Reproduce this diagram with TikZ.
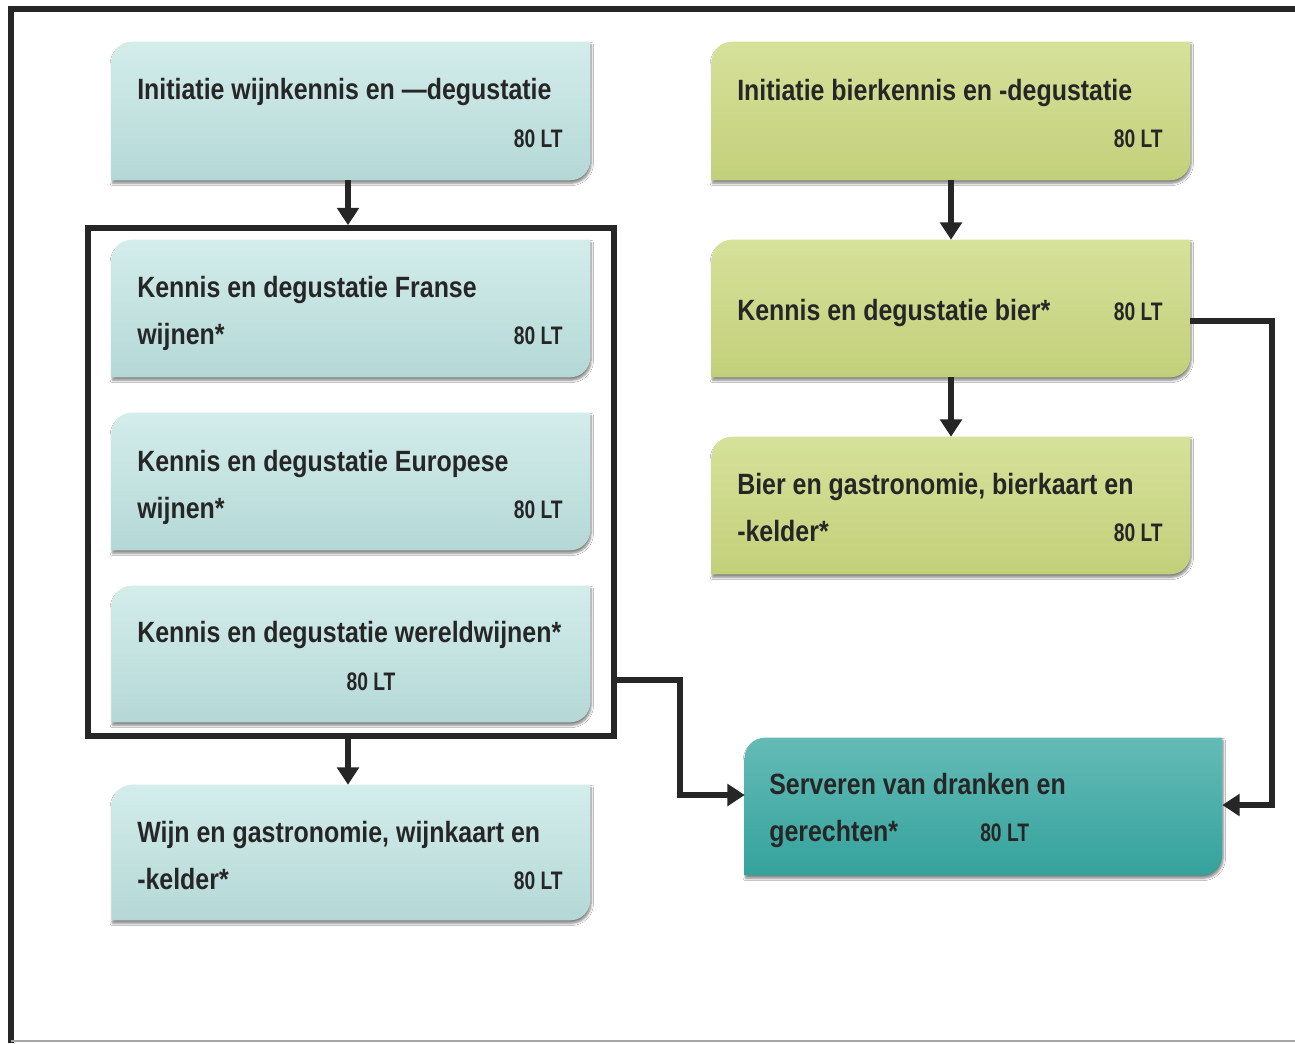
\documentclass[tikz,border=0pt]{standalone}
\usepackage{fontspec}
\setmainfont{Liberation Sans}[FakeStretch=0.85]
\newfontfamily\ltfont{Liberation Sans}[FakeStretch=0.76]
\usetikzlibrary{arrows.meta,shadows.blur,calc}
\definecolor{txtc}{HTML}{262626}
\definecolor{lnc}{HTML}{262626}
\definecolor{cyT}{HTML}{D3EDEB}
\definecolor{cyB}{HTML}{B4D8D6}
\definecolor{grT}{HTML}{D6E19A}
\definecolor{grB}{HTML}{C3D07A}
\definecolor{tlT}{HTML}{64BBB6}
\definecolor{tlB}{HTML}{35A29C}
\tikzset{
  boxnode/.style={rectangle, inner sep=0pt, draw=none, fill=none},
  cyanfill/.style={top color=cyT, bottom color=cyB},
  greenfill/.style={top color=grT, bottom color=grB},
  tealfill/.style={top color=tlT, bottom color=tlB},
  shad/.style={blur shadow={shadow xshift=0.6pt, shadow yshift=-2.2pt, shadow blur steps=6, shadow blur radius=1.8pt, shadow opacity=50}},
  txt/.style={font=\bfseries\fontsize{22}{26}\selectfont, text=txtc, inner sep=0pt},
  lt/.style={font=\ltfont\bfseries\fontsize{19}{22}\selectfont, text=txtc, inner sep=0pt},
  conn/.style={draw=lnc, line width=4pt, -{Triangle[length=13pt,width=16pt]}},
  groupbox/.style={rectangle, draw=lnc, line width=4.2pt, inner sep=0pt, fill=none}
}
\newcommand\leafbox[6]{%
  \node[boxnode] (#1) at ({(#2+#4)/2},{(#3+#5)/2})
    [minimum width={(#4-#2)*0.75pt}, minimum height={(#5-#3)*0.75pt}] {};
  \path[#6, shad] ([yshift=-15pt]#1.north west) arc[start angle=180,end angle=90,radius=15pt]
    -- (#1.north east) -- ([yshift=15pt]#1.south east)
    arc[start angle=0,end angle=-90,radius=15pt] -- (#1.south west) -- cycle;
}
\begin{document}
\begin{tikzpicture}[x=0.75pt,y=-0.75pt]
\useasboundingbox (0,0) rectangle (1295,1043);
\fill[white] (0,0) rectangle (1295,1043);
% outer frame
\draw[draw=lnc, line width=5pt] (11,1043) -- (11,9) -- (1295,9);
\draw[draw=gray!70, line width=1.8pt] (11,1041) -- (1295,1041);

% left column
\leafbox{winit}{112}{42}{590}{180}{cyanfill}
\node[txt, anchor=base west] (winitA) at (137,99) {Initiatie wijnkennis en —degustatie};
\node[lt, anchor=base east] (winitL) at (563,147) {80 LT};

\leafbox{fr}{112}{240}{590}{377}{cyanfill}
\node[txt, anchor=base west] (frA) at (137,297) {Kennis en degustatie Franse};
\node[txt, anchor=base west] (frB) at (137,344) {wijnen*};
\node[lt, anchor=base east] (frL) at (563,344) {80 LT};

\leafbox{eu}{112}{413}{590}{550}{cyanfill}
\node[txt, anchor=base west] (euA) at (137,471) {Kennis en degustatie Europese};
\node[txt, anchor=base west] (euB) at (137,518) {wijnen*};
\node[lt, anchor=base east] (euL) at (563,518) {80 LT};

\leafbox{we}{112}{586}{590}{722}{cyanfill}
\node[txt, anchor=base west] (weA) at (137,642) {Kennis en degustatie wereldwijnen*};
\node[lt, anchor=base] (weL) at (371,690) {80 LT};

\leafbox{wg}{112}{785}{590}{920}{cyanfill}
\node[txt, anchor=base west] (wgA) at (137,842) {Wijn en gastronomie, wijnkaart en};
\node[txt, anchor=base west] (wgB) at (137,889) {-kelder*};
\node[lt, anchor=base east] (wgL) at (563,889) {80 LT};

% group frame
\node[groupbox, minimum width={526*0.75pt}, minimum height={508*0.75pt}] (grp) at (351,482) {};

% right column
\leafbox{binit}{712}{42}{1190}{180}{greenfill}
\node[txt, anchor=base west] (binitA) at (737,100) {Initiatie bierkennis en -degustatie};
\node[lt, anchor=base east] (binitL) at (1163,147) {80 LT};

\leafbox{kb}{712}{240}{1190}{377}{greenfill}
\node[txt, anchor=base west] (kbA) at (737,320) {Kennis en degustatie bier*};
\node[lt, anchor=base east] (kbL) at (1163,320) {80 LT};

\leafbox{bg}{712}{437}{1190}{574}{greenfill}
\node[txt, anchor=base west] (bgA) at (737,494) {Bier en gastronomie, bierkaart en};
\node[txt, anchor=base west] (bgB) at (737,541) {-kelder*};
\node[lt, anchor=base east] (bgL) at (1163,541) {80 LT};

\leafbox{sv}{745}{738}{1222}{875}{tealfill}
\node[txt, anchor=base west] (svA) at (769,794) {Serveren van dranken en};
\node[txt, anchor=base west] (svB) at (769,841) {gerechten*};
\node[lt, anchor=base west] (svL) at (980,841) {80 LT};

% connectors
\coordinate (c1) at (348,0);
\draw[conn] (winit.south -| c1) -- (grp.north -| c1);
\draw[conn] (grp.south -| c1) -- (wg.north -| c1);
\draw[conn] (binit.south) -- (kb.north);
\draw[conn] (kb.south) -- (bg.north);
\coordinate (w1) at (680,680);
\coordinate (w2) at (680,795);
\draw[conn] (grp.east |- w1) -- (w1) -- (w2) -- (sv.west |- w2);
\coordinate (b1) at (1272,321);
\coordinate (b2) at (1272,805);
\draw[conn] (kb.east |- b1) -- (b1) -- (b2) -- (sv.east |- b2);
\end{tikzpicture}
\end{document}
